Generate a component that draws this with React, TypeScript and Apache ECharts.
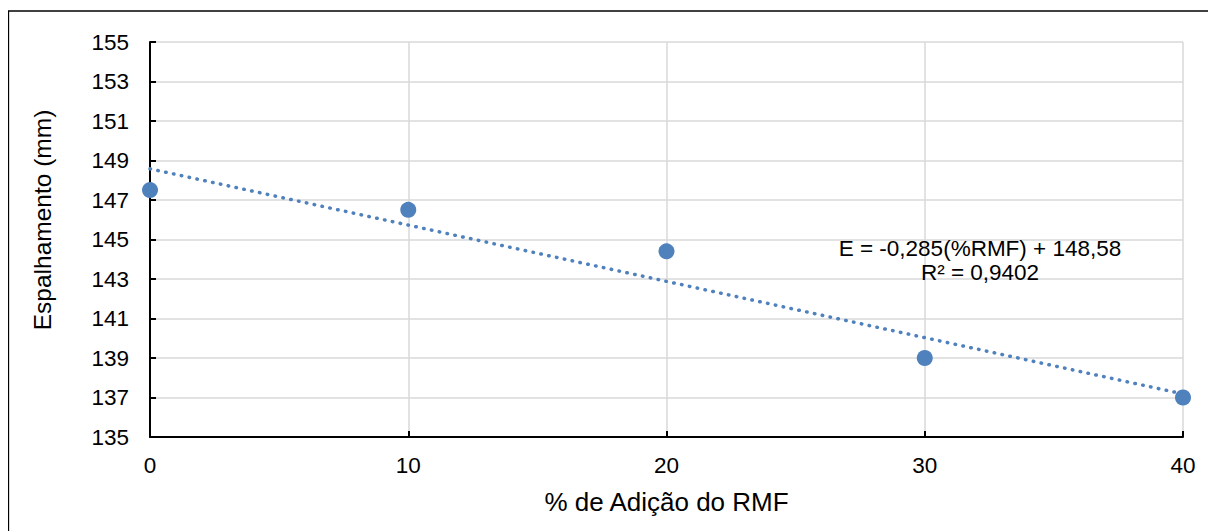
import React, { useEffect, useRef } from "react";
import * as echarts from "echarts";

// Measured spread versus RMF addition
const rmfPercent = [0, 10, 20, 30, 40];
const spreadMm = [147.5, 146.5, 144.4, 139.0, 137.0];

// Linear trend fitted to the data
const trendSlope = -0.285;
const trendIntercept = 148.58;
const trendLabel = "E = -0,285(%RMF) + 148,58";
const r2Label = "R² = 0,9402";

const xTitle = "% de Adição do RMF";
const yTitle = "Espalhamento (mm)";

const FONT = "'Liberation Sans', Arial, sans-serif";
const BLUE = "#4f81bd";

export default function App() {
  const ref = useRef<HTMLDivElement>(null);

  useEffect(() => {
    if (!ref.current) return;
    const chart = echarts.init(ref.current, undefined, { renderer: "svg" });

    const xStart = rmfPercent[0];
    const xEnd = rmfPercent[rmfPercent.length - 1];
    const trendData = [
      [xStart, trendIntercept + trendSlope * xStart],
      [xEnd, trendIntercept + trendSlope * xEnd],
    ];

    const textStyle = (text: string, size: number) => ({
      text,
      fontSize: size,
      fontFamily: FONT,
      fill: "#000",
      align: "center",
      verticalAlign: "middle",
    });

    chart.setOption({
      animation: false,
      backgroundColor: "#ffffff",
      textStyle: { fontFamily: FONT },
      grid: { left: 142, right: 33, top: 34, bottom: 94, containLabel: false },
      graphic: [
        {
          type: "line",
          shape: { x1: 0, y1: 3, x2: 1208, y2: 3 },
          style: { stroke: "#000", lineWidth: 1.3 },
          z: 100,
        },
        {
          type: "line",
          shape: { x1: 0.5, y1: 3, x2: 0.5, y2: 523 },
          style: { stroke: "#000", lineWidth: 1.3 },
          z: 100,
        },
        {
          type: "text",
          x: 972,
          y: 240,
          style: textStyle(trendLabel, 22.5),
          z: 10,
        },
        {
          type: "text",
          x: 972,
          y: 264,
          style: textStyle(r2Label, 22.5),
          z: 10,
        },
        {
          type: "text",
          x: 34,
          y: 212,
          rotation: Math.PI / 2,
          style: textStyle(yTitle, 24.5),
          z: 10,
        },
      ],
      xAxis: {
        type: "value",
        min: 0,
        max: 40,
        interval: 10,
        name: xTitle,
        nameLocation: "middle",
        nameGap: 52,
        nameTextStyle: { fontSize: 26, color: "#000", fontFamily: FONT },
        axisLine: { show: true, onZero: false, lineStyle: { color: "#000", width: 2 } },
        axisTick: { show: true, inside: true, length: 6, lineStyle: { color: "#000", width: 2 } },
        axisLabel: { fontSize: 22.5, color: "#000", margin: 17, fontFamily: FONT },
        splitLine: { show: true, lineStyle: { color: "#d9d9d9", width: 1.5 } },
      },
      yAxis: {
        type: "value",
        min: 135,
        max: 155,
        interval: 2,
        axisLine: { show: true, onZero: false, lineStyle: { color: "#000", width: 2 } },
        axisTick: { show: true, inside: true, length: 6, lineStyle: { color: "#000", width: 2 } },
        axisLabel: { fontSize: 22.5, color: "#000", margin: 21, fontFamily: FONT },
        splitLine: { show: true, lineStyle: { color: "#d9d9d9", width: 1.5 } },
      },
      series: [
        {
          type: "line",
          data: trendData,
          showSymbol: false,
          symbol: "none",
          lineStyle: { color: BLUE, width: 3.5, type: [0.5, 7.5], cap: "round" },
          z: 2,
          silent: true,
        },
        {
          type: "scatter",
          data: rmfPercent.map((x, i) => [x, spreadMm[i]]),
          symbol: "circle",
          symbolSize: 16,
          itemStyle: { color: BLUE, opacity: 1 },
          z: 3,
        },
      ],
    });

    return () => chart.dispose();
  }, []);

  return <div ref={ref} style={{ width: 1208, height: 523 }} />;
}
